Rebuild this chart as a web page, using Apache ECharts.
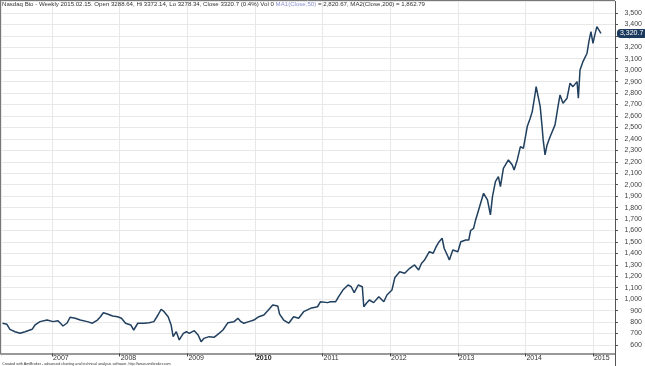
<!DOCTYPE html>
<html>
<head>
<meta charset="utf-8">
<script src="https://cdn.jsdelivr.net/npm/echarts@6/dist/echarts.min.js"></script>
<style>
html,body{margin:0;padding:0;background:#fff;}
#c{width:645px;height:366px;}
</style>
</head>
<body>
<div id="c"></div>
<script>
const dates = [
'2006-04-08','2006-05-02','2006-05-18','2006-06-15','2006-07-12','2006-08-08','2006-09-15','2006-10-01','2006-10-28','2006-12-05',
'2007-01-06','2007-02-02','2007-03-01','2007-03-23','2007-04-08','2007-05-06','2007-06-02','2007-07-10','2007-08-07','2007-09-03',
'2007-09-19','2007-10-05','2007-10-27','2007-11-24','2007-12-21','2008-01-11','2008-02-02','2008-03-01','2008-03-17','2008-04-08',
'2008-05-11','2008-06-08','2008-07-04','2008-07-26','2008-08-12','2008-08-28','2008-09-19','2008-10-05','2008-10-16','2008-11-02',
'2008-11-18','2008-12-10','2008-12-27','2009-01-11','2009-02-07','2009-02-28','2009-03-16','2009-04-01','2009-04-28','2009-05-25',
'2009-06-21','2009-07-12','2009-08-08','2009-09-10','2009-10-01','2009-10-17','2009-11-02','2009-11-29','2009-12-26','2010-01-22',
'2010-02-18','2010-03-11','2010-04-07','2010-05-04','2010-05-14','2010-06-05','2010-07-02','2010-07-29','2010-08-25','2010-09-21',
'2010-10-28','2010-12-05','2010-12-21','2011-01-28','2011-02-14','2011-03-13','2011-03-29','2011-04-21','2011-05-19','2011-06-05',
'2011-06-21','2011-07-13','2011-08-04','2011-08-12','2011-08-26','2011-09-11','2011-10-04','2011-11-01','2011-11-28','2011-12-15',
'2012-01-11','2012-01-27','2012-02-22','2012-03-20','2012-04-16','2012-05-12','2012-06-03','2012-06-19','2012-07-04','2012-07-31',
'2012-08-21','2012-09-06','2012-09-22','2012-10-08','2012-10-19','2012-11-09','2012-11-16','2012-12-05','2013-01-01','2013-01-17',
'2013-02-13','2013-03-01','2013-03-11','2013-03-27','2013-04-07','2013-04-18','2013-05-04','2013-05-20','2013-06-10','2013-06-26',
'2013-07-07','2013-07-23','2013-08-08','2013-08-19','2013-09-04','2013-10-01','2013-10-22','2013-11-01','2013-11-18','2013-12-05',
'2013-12-21','2014-01-11','2014-01-27','2014-02-07','2014-02-23','2014-02-28','2014-03-11','2014-03-22','2014-04-01','2014-04-07',
'2014-04-17','2014-04-28','2014-05-15','2014-05-25','2014-06-10','2014-06-26','2014-07-07','2014-07-23','2014-08-14','2014-08-30',
'2014-09-15','2014-10-07','2014-10-14','2014-10-23','2014-11-08','2014-11-30','2014-12-10','2014-12-21','2015-01-01','2015-01-11',
'2015-01-22','2015-02-01','2015-02-13'
];
const closes = [
790,781,737,716,702,716,737,775,804,818,
804,812,766,792,842,833,818,804,790,818,
847,882,871,853,847,833,790,775,731,790,
790,795,804,862,912,891,847,775,673,716,
644,702,716,702,725,687,629,658,673,667,
702,731,795,804,833,804,790,804,818,847,
862,900,949,941,870,818,790,847,833,891,
920,934,978,970,978,978,1022,1080,1124,1109,
1057,1124,1109,934,964,993,970,1022,978,1037,
1080,1190,1240,1226,1270,1299,1255,1314,1340,1415,
1401,1459,1502,1532,1445,1371,1342,1430,1415,1502,
1517,1517,1600,1619,1692,1750,1838,1925,1867,1736,
1895,2027,2070,1983,2143,2216,2172,2129,2216,2332,
2318,2507,2580,2638,2799,2856,2769,2682,2507,2391,
2260,2347,2420,2434,2522,2682,2784,2711,2755,2886,
2856,2900,2755,3002,3075,3148,3249,3337,3235,3308,
3380,3395,3320.7
];
const lastLabel = '3,320.7';
const titleMain = 'Nasdaq Bio - Weekly 2015.02.15. Open 3288.64, Hi 3372.14, Lo 3278.34, Close 3320.7 (0.4%) Vol 0 ';
const titleMA1 = 'MA1(Close,50)';
const titleRest = ' = 2,820.67, MA2(Close,200) = 1,862.79';
const credit = 'Created with AmiBroker - advanced charting and technical analysis software. http://www.amibroker.com';

const seriesData = dates.map((d, i) => [d, closes[i]]);
const chart = echarts.init(document.getElementById('c'));
const DAY = 86400000;
chart.setOption({
  animation: false,
  backgroundColor: '#fff',
  title: {
    text: '{a|' + titleMain + '}{m|' + titleMA1 + '}{a|' + titleRest + '}',
    left: 2, top: 1, padding: 0,
    textStyle: {
      fontWeight: 'normal',
      rich: {
        a: { fontFamily: 'Liberation Sans, Arial', fontSize: 6.1, fontWeight: 'normal', color: '#333' },
        m: { fontFamily: 'Liberation Sans, Arial', fontSize: 6.1, fontWeight: 'normal', color: '#8a8fd0' }
      }
    }
  },
  graphic: [
    { type: 'line', shape: { x1: 0.5, y1: 0, x2: 0.5, y2: 354 }, style: { stroke: '#777', lineWidth: 1 }, z: 10 },
    { type: 'line', shape: { x1: 0, y1: 0.5, x2: 615, y2: 0.5 }, style: { stroke: '#777', lineWidth: 1 }, z: 10 },
    { type: 'line', shape: { x1: 615.5, y1: 350, x2: 615.5, y2: 366 }, style: { stroke: '#555', lineWidth: 1 }, z: 10 },
    { type: 'text', left: 2, top: 361.5, style: { text: credit, font: '3.7px Liberation Sans', fill: '#333' } }
  ],
  grid: { left: 1, right: 30, top: 1.45, bottom: 9.55, containLabel: false },
  xAxis: {
    type: 'time',
    min: '2006-03-31',
    max: '2015-04-30',
    offset: -3,
    minInterval: 365 * DAY,
    maxInterval: 366 * DAY,
    axisLine: { show: true, lineStyle: { color: '#999', width: 2 } },
    axisTick: { show: true, length: 3, lineStyle: { color: '#444' } },
    axisLabel: {
      align: 'left', margin: 1, padding: [0, 0, 0, 1],
      fontFamily: 'Liberation Sans, Arial', fontSize: 7, color: '#333',
      formatter: function (v) {
        const y = new Date(v).getFullYear();
        return y === 2010 ? '{b|' + y + '}' : String(y);
      },
      rich: { b: { fontWeight: 'bold', fontFamily: 'Liberation Sans, Arial', fontSize: 7, color: '#222' } }
    },
    splitLine: { show: true, lineStyle: { color: '#e8e8e8', width: 1 } }
  },
  yAxis: {
    type: 'value',
    position: 'right',
    min: 500, max: 3600, interval: 100,
    axisLine: { show: true, lineStyle: { color: '#555', width: 1 } },
    axisTick: { show: true, length: 3, lineStyle: { color: '#555' } },
    axisLabel: {
      showMinLabel: false, showMaxLabel: false,
      align: 'right', margin: 27,
      fontFamily: 'Liberation Sans, Arial', fontSize: 7, color: '#444',
      formatter: v => v.toLocaleString('en-US')
    },
    splitLine: { show: true, showMinLine: false, lineStyle: { color: '#e8e8e8', width: 1 } }
  },
  series: [{
    type: 'line',
    data: seriesData,
    showSymbol: false,
    lineStyle: { color: '#21405f', width: 1.5 },
    clip: false,
    endLabel: {
      show: true, formatter: lastLabel, distance: 16,
      backgroundColor: '#1c3a5e', color: '#fff',
      fontFamily: 'Liberation Sans, Arial', fontSize: 7,
      padding: [1, 2, 1, 3], borderRadius: [4, 1, 1, 4]
    }
  }]
});
</script>
</body>
</html>
